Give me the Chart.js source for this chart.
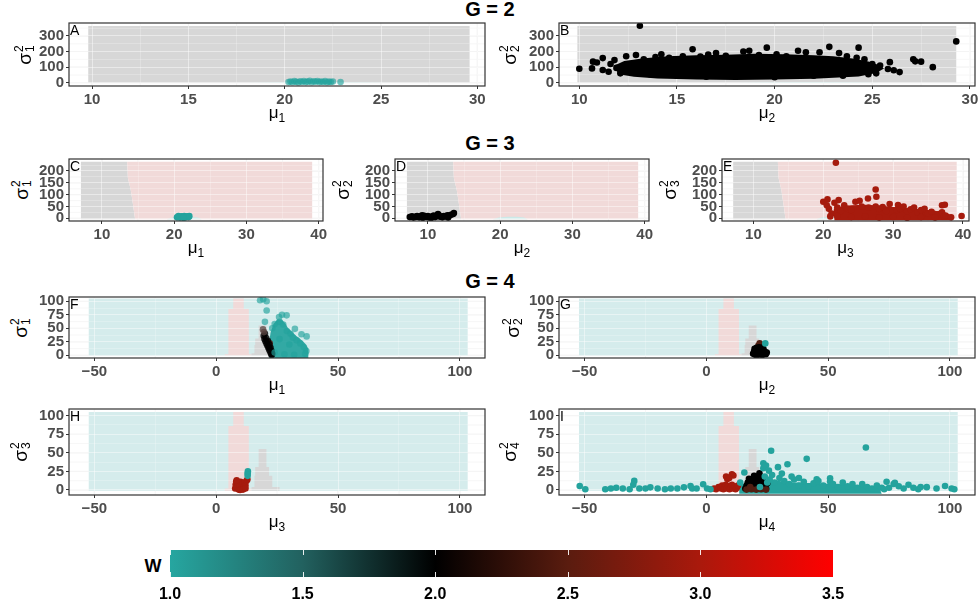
<!DOCTYPE html>
<html>
<head>
<meta charset="utf-8">
<script src="https://cdn.jsdelivr.net/npm/chart.js@4.4.0/dist/chart.umd.min.js"></script>
<style>
body{margin:0;width:980px;height:606px;background:#fff;position:relative;overflow:hidden;font-family:"Liberation Sans",Arial,sans-serif}
canvas{position:absolute}
.gt{position:absolute;font-weight:bold;font-size:20px;transform:translate(-50%,-50%);white-space:nowrap}
.xt{position:absolute;font-size:17px;transform:translate(-50%,-50%);white-space:nowrap}
.xt sub{font-size:12px}
.yt{position:absolute;transform:translate(-50%,-50%) rotate(-90deg);display:flex;align-items:center;font-size:19px;white-space:nowrap}
.ss{display:inline-flex;flex-direction:column;font-size:12px;line-height:11px;margin-left:1px}
.w{position:absolute;left:153px;top:566px;transform:translate(-50%,-50%);font-weight:bold;font-size:18px}
</style>
</head>
<body>
<div class="gt" style="left:490px;top:9px">G = 2</div>
<div class="gt" style="left:490px;top:143px">G = 3</div>
<div class="gt" style="left:490px;top:281px">G = 4</div>
<div class="w">W</div>
<script>
// ticks (all gridlines) and labelled ticks
const xTicksG2 = [10, 12.5, 15, 17.5, 20, 22.5, 25, 27.5, 30];
const xLabelsG2 = [10, 15, 20, 25, 30];
const yTicksG2 = [0, 50, 100, 150, 200, 250, 300, 350];
const yLabelsG2 = [0, 100, 200, 300];
const xTicksG3 = [10, 15, 20, 25, 30, 35, 40];
const xLabelsG3 = [10, 20, 30, 40];
const yTicksG3 = [0, 25, 50, 75, 100, 125, 150, 175, 200, 225];
const yLabelsG3 = [0, 50, 100, 150, 200];
const xTicksG4 = [-50, -25, 0, 25, 50, 75, 100];
const xLabelsG4 = [-50, 0, 50, 100];
const yTicksG4 = [0, 12.5, 25, 37.5, 50, 62.5, 75, 87.5, 100];
const yLabelsG4 = [0, 25, 50, 75, 100];
const wTicks = [1.0, 1.5, 2.0, 2.5, 3.0, 3.5];

// classification regions (mu, sigma^2 polygons)
const grayA = [[9.8, 0], [9.8, 364], [29.6, 364], [29.6, 0]];
const grayB = [[9.9, 0], [9.9, 364], [29.3, 364], [29.3, 0]];
const lightTealG2 = [[18, 0], [19.5, 3], [21, 5], [22.5, 5], [24, 3], [25.5, 0]];
const grayG3 = [[7.1, -4], [7.1, 239], [13.5, 239], [13.6, 170], [14.0, 120], [14.3, 60], [14.6, -4]];
const pinkG3 = [[13.5, 239], [39.1, 239], [39.1, -4], [14.6, -4], [14.3, 60], [14.0, 120], [13.6, 170]];
const lightTealG3 = [[19, -4], [19.8, 3], [21, 7], [22.3, 7], [23.3, 3], [23.8, -4]];
const tealG4 = [[-52.3, -1], [-52.3, 105], [103.2, 105], [103.2, -1]];
const pinkG4 = [[3.5, -1], [3.5, 2], [5, 2], [5, 86], [7, 86], [7, 105], [11.3, 105], [11.3, 86], [13.4, 86], [13.4, 2], [14.5, 2], [14.5, -1]];
const grayG4 = [[14.5, -1], [14.5, 4], [15.7, 4], [15.7, 19], [16, 19], [16, 31], [17.4, 31], [17.4, 55], [20.6, 55], [20.6, 31], [21.7, 31], [21.7, 19], [23, 19], [23, 4], [26, 4], [26, -1]];

// posterior draws (dense cores given as outlines, sparse draws as points)
const ptsA = [[20.2,4],[20.3,8],[20.4,3],[20.5,10],[20.6,6],[20.7,2],[20.8,9],[20.9,5],[21.0,11],[21.1,4],[21.2,7],[21.3,12],[21.4,3],[21.5,9],[21.6,6],[21.7,11],[21.8,4],[21.9,8],[22.0,5],[22.1,10],[22.2,3],[22.3,7],[22.4,5],[22.5,8],[22.9,5]];
const coreB = [[12.0,55],[11.8,110],[12.3,140],[13.2,155],[14.5,170],[16,176],[17.5,180],[19,186],[20.5,183],[22,176],[23,170],[24,156],[24.8,136],[25.3,115],[25.6,92],[25.2,62],[24.3,40],[22,25],[20,20],[18,18],[16,20],[14,27],[12.8,38]];
const ptsB = [[10.0,90],[10.65,92],[10.7,135],[10.9,130],[11.2,158],[11.2,82],[11.6,120],[11.8,145],[12.1,60],[12.4,170],[12.6,100],[12.9,178],[13.1,365],[13.3,150],[13.6,55],[13.9,165],[14.2,182],[14.6,160],[15.0,45],[15.3,170],[15.8,215],[16.2,168],[16.6,180],[17.0,190],[17.5,172],[18.0,40],[18.4,200],[18.7,205],[19.2,178],[19.6,225],[20.1,182],[20.6,170],[21.2,205],[21.6,195],[22.0,45],[22.3,195],[22.8,230],[23.3,190],[23.7,170],[24.2,160],[24.3,225],[24.6,150],[25.0,120],[25.2,60],[25.4,110],[25.8,88],[25.9,132],[26.1,80],[26.4,68],[27.1,150],[27.2,137],[27.5,135],[28.1,100],[29.3,265],[16.5,38],[20,35],[23.5,45],[12.8,70],[24.8,55],[11.5,70],[11.9,95]];
const ptsC = [[20.4,4],[20.6,9],[20.8,3],[21.0,8],[21.2,5],[21.4,10],[21.6,4],[21.8,8],[22.0,5],[22.1,9],[21.3,2]];
const ptsD = [[7.5,5],[7.8,8],[8.0,3],[8.3,6],[8.5,10],[8.8,4],[9.0,8],[9.3,2],[9.5,11],[9.8,6],[10.0,9],[10.2,3],[10.5,7],[10.8,12],[11.0,5],[11.2,9],[11.5,14],[11.7,7],[12.0,4],[12.2,10],[12.5,8],[12.7,13],[13.0,12],[13.2,15],[13.5,18],[13.6,22],[11.4,18],[9.2,13],[10.5,2],[12.8,3]];
const coreE = [[21.6,-8],[21.5,38],[22.5,50],[24,55],[26,57],[28,54],[30,48],[32,42],[34,38],[36,32],[37.5,24],[38.5,12],[38.5,-8]];
const ptsE = [[20.0,70],[20.6,80],[20.5,55],[20.8,40],[22.2,77],[21.8,235],[21.6,66],[22.0,45],[22.5,30],[23.0,55],[23.5,40],[24.0,35],[24.6,70],[25.2,74],[25.5,50],[26.4,84],[26.5,45],[27.5,122],[27.6,91],[27.5,50],[28.0,40],[28.5,48],[29.0,30],[29.5,60],[30.7,56],[30.5,35],[31.0,40],[31.5,50],[32.0,30],[32.5,38],[33.0,45],[33.5,25],[34.0,35],[34.5,40],[35.0,20],[35.5,28],[37.0,55],[37.4,57],[36.6,18],[37.0,25],[37.3,8],[37.5,12],[39.8,10],[22,10],[24,5],[26,8],[28,3],[30,6],[32,2],[34,5],[36,3],[38.3,4],[21.2,20],[21.0,8]];
const tealCoreF = [[21.8,-5],[21.6,20],[22.3,42],[23.5,58],[25,66],[27,66],[28.5,58],[29.5,50],[31,44],[32.5,37],[34.5,30],[36.5,22],[37.8,12],[37.8,-5]];
const tealF = [[18,102],[19.3,104],[20.7,100],[20.7,83],[20,62],[25.8,71],[27,75],[28.9,74],[32.3,49],[35,39],[37.1,35],[23,50],[24,58],[26,62],[27.5,57],[29,45],[30.5,40],[31.5,33],[33,28],[34.5,22],[36,15],[37,8],[36.5,3],[24,5],[28,2],[32,1],[30,20],[26,30]];
const blackF = [[19.5,36],[19.8,30],[20.2,26],[20.6,22],[21,18],[21.4,14],[21.8,10],[22.2,6],[22.6,2],[20.5,32],[21.2,27],[21.8,20],[22.3,14],[22.7,8],[23,3],[22.8,0.5],[20,40]];
const greyF = [[19.2,48],[19.6,43]];
const brownF = [[21.2,24],[21.6,18],[22,13],[21.9,22]];
const blackG = [[19.2,3],[19.6,7],[20,1],[20.4,10],[20.8,4],[21.2,8],[21.6,2],[22,12],[22.4,6],[22.8,1],[23.2,9],[23.6,4],[24,7],[24.4,2],[24.8,5],[20.6,14],[21.6,15],[22.6,14],[23.4,12],[21,0.5],[23,0.5],[19.8,12]];
const brownG = [[21.4,18],[21.9,22],[22.4,17]];
const tealG = [[24.2,22]];
const redH = [[7.8,2],[8,7],[8.2,11],[8.6,4],[9,9],[9.2,0.5],[9.6,6],[10,11],[10.4,2],[10.8,8],[11.2,4],[11.6,10],[12,6],[12.4,12],[12.8,14],[8.4,13],[9.8,0],[11,0.5],[12,2]];
const tealH = [[12.9,19],[12.9,22],[13,25]];
const tealCoreI = [[13.5,-5],[13.5,7],[18,10],[24,13],[30,12],[36,10],[44,9],[52,8],[60,7],[66,6],[71,3],[72,-5]];
const tealI = [[-52,5.4],[-49.7,1],[-41.5,1],[-39.2,2],[-37,3],[-34.3,2],[-31.5,1],[-29.6,12.2],[-30,7],[-27.5,2],[-25,2],[-23,3.5],[-20,2],[-17,1],[-14.6,2],[-11.9,2],[-9.2,3.5],[-6.5,5.4],[-5.8,2],[-4,2],[-1.3,7.6],[0.3,2],[1.7,1],[13.9,9.9],[15.6,23.4],[23.4,29.3],[23.4,36],[24.5,33],[25.7,26],[26.6,52.7],[29.4,30.7],[33.3,34.7],[41.2,41.9],[65.5,57.2],[45.3,14.4],[50.8,15.8],[50.8,11.3],[74,11],[76.9,8],[77.4,9.5],[90.5,3.8],[94.5,2],[98,5.4],[100.7,2],[101.8,1],[26,14],[28,10],[30,16],[32,12],[34,8],[36,14],[38,6],[40,11],[42,5],[44,9],[46,12],[48,6],[52,8],[54,4],[56,10],[58,5],[60,8],[62,3],[64,8],[66,4],[68,2],[70,6],[72,3],[73,1],[75,3],[79,5],[81,2],[83,7],[85,3],[87,1],[88,4],[24,18],[27,20],[31,22],[35,18],[38,16],[25,10],[22,4]];
const redI = [[4,1],[5,4],[6,2],[6.5,6],[7,1],[7.5,4],[8,7],[8.5,2],[9,5],[9.5,1],[10,4],[10.5,7],[11,2],[11.5,5],[12,1],[12.5,3],[13,6],[3.2,2],[8.6,14.6],[8.1,18],[10.5,21.2],[11.1,19.5],[9.4,16]];
const blackI = [[16,2],[16.5,6],[17,10],[17.5,15],[18,14],[18.5,8],[19,2],[19.6,18.9],[20,13],[20.5,6],[21,10],[21.5,3],[21.8,22.5],[22.5,8],[23,2],[23.5,11],[24,6],[24.5,2],[25,9],[20.8,16],[22.4,15]];
const brownI = [[16.5,0.5],[18.5,1],[20.5,0.5],[22.5,1],[24.5,0.5],[18,4],[22,3]];

const cTeal = 'rgb(36,163,157)';
const cTealA = 'rgba(36,163,157,0.65)';
const cRed = 'rgb(166,27,13)';
const cBrown = 'rgb(80,30,18)';
const cGrey = 'rgba(90,70,65,0.75)';
const rGray = '#d7d7d7', rPink = '#f1dad9', rTeal = '#d5ecec', rLight = '#cbe9e8';

const G2 = {xt: xTicksG2, xl: xLabelsG2, yt: yTicksG2, yl: yLabelsG2, yr: [-21, 383]};
const G3 = {xt: xTicksG3, xl: xLabelsG3, yt: yTicksG3, yl: yLabelsG3, yr: [-11.4, 250.7]};
const G4a = {xt: xTicksG4, xl: xLabelsG4, yt: yTicksG4, yl: yLabelsG4, yr: [-5, 108]};
const G4b = {xt: xTicksG4, xl: xLabelsG4, yt: yTicksG4, yl: yLabelsG4, yr: [-6.8, 109]};

const panels = [
  {letter: 'A', k: 1, g: G2, frame: [69, 23, 485, 86], xr: [8.8, 30.4], ytx: 25,
   regions: [[grayA, rGray], [lightTealG2, rLight]], polys: [], pts: [[ptsA, cTealA]]},
  {letter: 'B', k: 2, g: G2, frame: [559, 23, 975, 86], xr: [8.96, 30.26], ytx: 510,
   regions: [[grayB, rGray], [lightTealG2, rLight]], polys: [[coreB, '#000']], pts: [[ptsB, '#000']]},
  {letter: 'C', k: 1, g: G3, frame: [69, 159, 323, 221], xr: [5.45, 40.6], ytx: 22,
   regions: [[grayG3, rGray], [pinkG3, rPink], [lightTealG3, rLight]], polys: [], pts: [[ptsC, cTeal]]},
  {letter: 'D', k: 2, g: G3, frame: [395, 159, 649, 221], xr: [5.45, 40.6], ytx: 343,
   regions: [[grayG3, rGray], [pinkG3, rPink], [lightTealG3, rLight]], polys: [], pts: [[ptsD, '#000']]},
  {letter: 'E', k: 3, g: G3, frame: [722, 159, 969, 221], xr: [5.5, 40.86], ytx: 670,
   regions: [[grayG3, rGray], [pinkG3, rPink], [lightTealG3, rLight]], polys: [[coreE, cRed]], pts: [[ptsE, cRed]]},
  {letter: 'F', k: 1, g: G4a, frame: [69, 297, 485, 358], xr: [-60.4, 110.3], ytx: 21,
   regions: [[tealG4, rTeal], [pinkG4, rPink], [grayG4, rGray]], polys: [[tealCoreF, 'rgba(36,163,157,0.92)']],
   pts: [[tealF, cTealA], [greyF, cGrey], [blackF, 'rgba(0,0,0,0.8)'], [brownF, cBrown]]},
  {letter: 'G', k: 2, g: G4a, frame: [559, 297, 975, 358], xr: [-60.5, 110.3], ytx: 513,
   regions: [[tealG4, rTeal], [pinkG4, rPink], [grayG4, rGray]], polys: [],
   pts: [[tealG, cTeal], [blackG, '#000'], [brownG, cBrown]]},
  {letter: 'H', k: 3, g: G4b, frame: [69, 409, 485, 495], xr: [-60.4, 110.3], ytx: 21,
   regions: [[tealG4, rTeal], [pinkG4, rPink], [grayG4, rGray]], polys: [],
   pts: [[tealH, cTeal], [redH, cRed]]},
  {letter: 'I', k: 4, g: G4b, frame: [559, 409, 975, 495], xr: [-60.5, 110.3], ytx: 510,
   regions: [[tealG4, rTeal], [pinkG4, rPink], [grayG4, rGray]], polys: [[tealCoreI, cTeal]],
   pts: [[tealI, cTeal], [redI, cRed], [brownI, cBrown], [blackI, '#000']]},
];

const toXY = arr => arr.map(([x, y]) => ({x, y}));
const fmt = v => String(v).replace('-', '\u2212');

function axis(range, ticks, labels, fit) {
  const major = c => c.tick && labels.includes(c.tick.value);
  return {
    type: 'linear', min: range[0], max: range[1],
    afterBuildTicks: s => { s.ticks = ticks.map(v => ({value: v})); },
    afterFit: fit,
    ticks: {autoSkip: false, maxRotation: 0, padding: 2, color: '#4d4d4d',
      font: {family: 'Liberation Sans', weight: 'bold', size: 15},
      callback: v => labels.includes(v) ? fmt(v) : ''},
    grid: {color: 'rgba(255,255,255,0.45)', lineWidth: c => major(c) ? 1 : 0.5,
      tickLength: 3, tickWidth: 1, tickColor: c => major(c) ? '#333' : 'rgba(0,0,0,0)'},
    border: {display: false}
  };
}

function makePanel(p) {
  const padT = 12, padR = 12, yW = 34, xH = 18;
  const [l, t, r, b] = p.frame;
  const cv = document.createElement('canvas');
  const w = r - l + yW + padR, h = b - t + padT + xH;
  cv.width = w; cv.height = h;
  cv.style.left = (l - yW) + 'px'; cv.style.top = (t - padT) + 'px';
  document.body.appendChild(cv);

  const datasets = [];
  p.polys.forEach(([d, col]) => datasets.push({data: toXY(d.concat([d[0]])), showLine: true, fill: 'shape',
    backgroundColor: col, borderColor: 'rgba(0,0,0,0)', borderWidth: 0, pointRadius: 0, tension: 0, order: 5}));
  p.pts.forEach(([d, col]) => datasets.push({data: toXY(d), backgroundColor: col, borderWidth: 0, pointRadius: 3.3, order: 1}));

  const bg = {
    id: 'bg',
    beforeDraw(chart) {
      const {ctx, chartArea: a, scales: {x, y}} = chart;
      ctx.save();
      ctx.beginPath(); ctx.rect(a.left, a.top, a.width, a.height); ctx.clip();
      ctx.strokeStyle = '#ebebeb';
      x.ticks.forEach(tk => {
        const px = x.getPixelForValue(tk.value);
        ctx.lineWidth = p.g.xl.includes(tk.value) ? 1 : 0.5;
        ctx.beginPath(); ctx.moveTo(px, a.top); ctx.lineTo(px, a.bottom); ctx.stroke();
      });
      y.ticks.forEach(tk => {
        const py = y.getPixelForValue(tk.value);
        ctx.lineWidth = p.g.yl.includes(tk.value) ? 1 : 0.5;
        ctx.beginPath(); ctx.moveTo(a.left, py); ctx.lineTo(a.right, py); ctx.stroke();
      });
      p.regions.forEach(([poly, col]) => {
        ctx.fillStyle = col;
        ctx.beginPath();
        poly.forEach(([vx, vy], i) => {
          const px = x.getPixelForValue(vx), py = y.getPixelForValue(vy);
          if (i) ctx.lineTo(px, py); else ctx.moveTo(px, py);
        });
        ctx.closePath(); ctx.fill();
      });
      ctx.restore();
    },
    afterDraw(chart) {
      const {ctx, chartArea: a} = chart;
      ctx.save();
      ctx.strokeStyle = '#333'; ctx.lineWidth = 1.2;
      ctx.strokeRect(a.left, a.top, a.width, a.height);
      ctx.fillStyle = '#000'; ctx.font = '14px Liberation Sans';
      ctx.textBaseline = 'top';
      ctx.fillText(p.letter, a.left + 1, a.top + 1);
      ctx.restore();
    }
  };

  new Chart(cv, {
    type: 'scatter',
    data: {datasets},
    options: {
      responsive: false, animation: false, devicePixelRatio: 1,
      layout: {padding: {left: 0, top: padT, right: padR, bottom: 0}},
      plugins: {legend: {display: false}, tooltip: {enabled: false}},
      scales: {
        x: axis(p.xr, p.g.xt, p.g.xl, s => { s.height = xH; }),
        y: axis(p.g.yr, p.g.yt, p.g.yl, s => { s.width = yW; })
      }
    },
    plugins: [bg]
  });

  const xt = document.createElement('div');
  xt.className = 'xt';
  xt.style.left = ((l + r) / 2) + 'px'; xt.style.top = (b + 28) + 'px';
  xt.innerHTML = '\u03bc<sub>' + p.k + '</sub>';
  document.body.appendChild(xt);
  const yt = document.createElement('div');
  yt.className = 'yt';
  yt.style.left = p.ytx + 'px'; yt.style.top = ((t + b) / 2) + 'px';
  yt.innerHTML = '<span>\u03c3</span><span class="ss"><span>2</span><span>' + p.k + '</span></span>';
  document.body.appendChild(yt);
}

panels.forEach(makePanel);

// colour bar for W
const wStops = [1.0, 1.5, 2.0, 2.5, 3.0, 3.5];
const wColors = ['#26a6a0', '#22615f', '#000000', '#5a1c0f', '#aa190c', '#ff0000'];
(function () {
  const frame = [170, 550, 833, 577], pad = 20, xH = 26;
  const cv = document.createElement('canvas');
  const w = frame[2] - frame[0] + 2 * pad, h = frame[3] - frame[1] + 2 + xH;
  cv.width = w; cv.height = h;
  cv.style.left = (frame[0] - pad) + 'px'; cv.style.top = (frame[1] - 2) + 'px';
  document.body.appendChild(cv);
  new Chart(cv, {
    type: 'bar',
    data: {labels: ['W'], datasets: [{
      data: [[wTicks[0], wTicks[wTicks.length - 1]]],
      barPercentage: 1, categoryPercentage: 1, borderWidth: 0, borderSkipped: false,
      backgroundColor: c => {
        const ch = c.chart, xs = ch.scales.x;
        if (!ch.chartArea || !xs) return '#000';
        const g = ch.ctx.createLinearGradient(xs.getPixelForValue(1), 0, xs.getPixelForValue(3.5), 0);
        wStops.forEach((v, i) => g.addColorStop((v - 1) / 2.5, wColors[i]));
        return g;
      }
    }]},
    options: {
      indexAxis: 'y', responsive: false, animation: false, devicePixelRatio: 1,
      layout: {padding: {left: pad, right: pad, top: 2, bottom: 0}},
      plugins: {legend: {display: false}, tooltip: {enabled: false}},
      scales: {
        y: {display: false},
        x: {type: 'linear', min: 1, max: 3.5,
          afterBuildTicks: s => { s.ticks = wTicks.map(v => ({value: v})); },
          afterFit: s => { s.height = xH; },
          ticks: {color: '#000', padding: 0, font: {family: 'Liberation Sans', weight: 'bold', size: 16},
            callback: v => v.toFixed(1)},
          grid: {display: false}, border: {display: false}}
      }
    },
    plugins: [{
      id: 'wticks',
      afterDatasetsDraw(chart) {
        const {ctx, chartArea: a, scales: {x}} = chart;
        ctx.save();
        ctx.strokeStyle = 'rgba(255,255,255,0.9)'; ctx.lineWidth = 1;
        wTicks.forEach(v => {
          const px = Math.round(x.getPixelForValue(v)) + 0.5;
          ctx.beginPath();
          ctx.moveTo(px, a.top); ctx.lineTo(px, a.top + 5);
          ctx.moveTo(px, a.bottom - 5); ctx.lineTo(px, a.bottom);
          ctx.stroke();
        });
        ctx.restore();
      }
    }]
  });
})();
</script>
</body>
</html>
